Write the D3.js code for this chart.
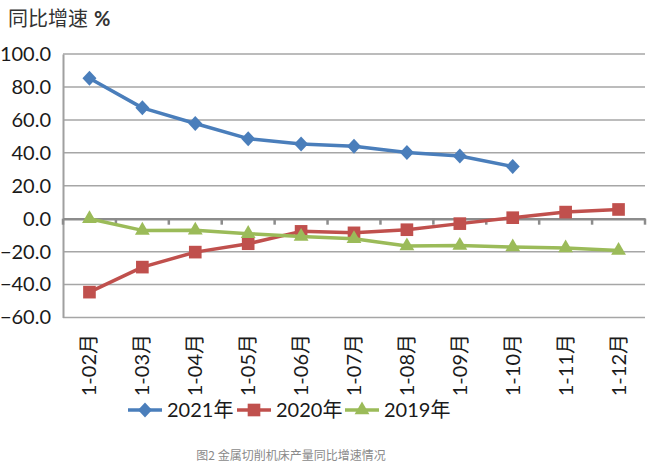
<!DOCTYPE html>
<html><head><meta charset="utf-8">
<script src="https://cdn.jsdelivr.net/npm/d3@7"></script>
<style>body{margin:0;background:#fff}</style>
</head><body>
<script>
const categories = ["1-02月","1-03月","1-04月","1-05月","1-06月","1-07月","1-08月","1-09月","1-10月","1-11月","1-12月"];
const s2021 = [85.3, 67.3, 57.8, 48.6, 45.3, 44.0, 40.2, 38.1, 31.7, null, null];
const s2020 = [-44.6, -29.4, -20.3, -15.2, -7.7, -8.6, -6.7, -3.0, 0.6, 4.0, 5.6];
const s2019 = [0.0, -7.1, -7.0, -9.1, -10.8, -12.2, -16.6, -16.3, -17.2, -17.8, -19.3];
const yTicks = [100, 80, 60, 40, 20, 0, -20, -40, -60];
const seriesNames = ["2021年", "2020年", "2019年"];
const seriesColors = ["#4A7EBB", "#C0504D", "#9BBB59"];
const yTitle = "同比增速";
const yUnit = "%";
const caption = "图2 金属切削机床产量同比增速情况";

(function () {
const W = 668, H = 468;
const font = "Lato, 'Noto Sans CJK SC', sans-serif";
const svg = d3.select("body").append("svg").attr("width", W).attr("height", H)
  .style("font-family", font);

const mL = 63, mR = 645, mT = 54, mB = 317.5;
const x = d3.scaleBand().domain(categories).range([mL, mR]);
const y = d3.scaleLinear().domain([-60, 100]).range([mB, mT]);

svg.append("g").selectAll("line").data(yTicks).join("line")
  .attr("x1", mL).attr("x2", mR)
  .attr("y1", d => y(d)).attr("y2", d => y(d))
  .attr("stroke", "#a6a6a6").attr("stroke-width", 1.5);

const yAxis = d3.axisLeft(y).tickValues(yTicks).tickFormat(d3.format(".1f")).tickSize(0).tickPadding(12);
const gy = svg.append("g").attr("transform", `translate(${mL},0)`).call(yAxis);
gy.select(".domain").attr("stroke", "#a0a0a0").attr("stroke-width", 2);
gy.selectAll("text").attr("font-size", 20).attr("fill", "#1a1a1a").attr("font-family", font);

const xAxis = d3.axisBottom(x).tickSize(0).tickFormat("");
const gx = svg.append("g").attr("transform", `translate(0,${y(0)})`).call(xAxis);
gx.select(".domain").attr("stroke", "#8c8c8c").attr("stroke-width", 2.5);
const bounds = categories.map(c => x(c)).concat([mR]);
gx.selectAll(".bt").data(bounds).join("line").attr("class", "bt")
  .attr("x1", d => d).attr("x2", d => d).attr("y1", 0).attr("y2", 6)
  .attr("stroke", "#8c8c8c").attr("stroke-width", 2.5);

svg.append("g").selectAll("text").data(categories).join("text")
  .attr("transform", d => `translate(${x(d) + x.bandwidth()/2 + 7},334) rotate(-90)`)
  .attr("text-anchor", "end")
  .attr("font-size", 20).attr("fill", "#1a1a1a")
  .text(d => d);

const diamond = { draw(ctx) { ctx.moveTo(0,-7.5); ctx.lineTo(7,0); ctx.lineTo(0,7.5); ctx.lineTo(-7,0); ctx.closePath(); } };
const allSeries = [s2021, s2020, s2019];
const line = d3.line().defined(d => d.v != null).x(d => d.x).y(d => y(d.v));
const symbols = [diamond, d3.symbolSquare, d3.symbolTriangle];
const symSizes = [1, 160, 95];
allSeries.forEach((s, i) => {
  const pts = s.map((v, j) => ({x: x(categories[j]) + x.bandwidth()/2, v}));
  svg.append("path").datum(pts).attr("d", line)
    .attr("fill", "none").attr("stroke", seriesColors[i]).attr("stroke-width", 3.5)
    .attr("stroke-linejoin", "round");
  svg.append("g").selectAll("path").data(pts.filter(d => d.v != null)).join("path")
    .attr("transform", d => `translate(${d.x},${y(d.v)})`)
    .attr("d", d3.symbol().type(symbols[i]).size(symSizes[i]))
    .attr("fill", seriesColors[i]);
});

const t = svg.append("text").attr("x", 8).attr("y", 26).attr("font-size", 20).attr("fill", "#333")
  .attr("font-family", "'Noto Sans CJK SC', sans-serif");
t.append("tspan").text(yTitle);
t.append("tspan").attr("dx", 6).attr("font-weight", "bold").attr("font-family", "Lato, sans-serif").text(yUnit);

const legX = [128, 237, 345];
seriesNames.forEach((n, i) => {
  const g = svg.append("g").attr("transform", `translate(${legX[i]},410)`);
  g.append("line").attr("x1", 0).attr("x2", 34).attr("y1", 0).attr("y2", 0)
    .attr("stroke", seriesColors[i]).attr("stroke-width", 3.5);
  g.append("path").attr("transform", "translate(17,0)")
    .attr("d", d3.symbol().type(symbols[i]).size(symSizes[i])).attr("fill", seriesColors[i]);
  g.append("text").attr("x", 39).attr("y", 7).attr("font-size", 20).attr("fill", "#1a1a1a").text(n);
});

svg.append("text").attr("x", 291).attr("y", 460).attr("text-anchor", "middle")
  .attr("font-size", 12).attr("fill", "#8a8a8a")
  .attr("font-family", "'Noto Sans CJK SC', sans-serif").text(caption);
})();
</script>
</body></html>
